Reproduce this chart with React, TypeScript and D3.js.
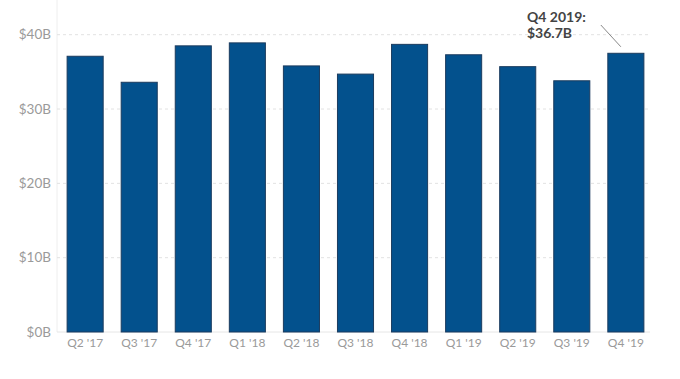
import React from "react";
import * as d3 from "d3";

const categories = ["Q2 '17", "Q3 '17", "Q4 '17", "Q1 '18", "Q2 '18", "Q3 '18", "Q4 '18", "Q1 '19", "Q2 '19", "Q3 '19", "Q4 '19"];
const values = [37.1, 33.6, 38.5, 38.9, 35.8, 34.7, 38.7, 37.3, 35.7, 33.8, 37.5];
const yTicks = [0, 10, 20, 30, 40];
const annotationLines = ["Q4 2019:", "$36.7B"];

const W = 680;
const H = 379;
const FONT = "Lato, 'Open Sans', sans-serif";

export default function App() {
  const plotLeft = 57;
  const plotRight = 650;
  const x = d3
    .scaleBand<string>()
    .domain(categories)
    .range([59, 652])
    .paddingInner(0.333)
    .paddingOuter(0.15);
  const y = d3.scaleLinear().domain([0, 40]).range([332, 34.7]);

  const last = categories[categories.length - 1];
  const lastX = (x(last) ?? 0) + x.bandwidth() / 2;
  const lastY = y(values[values.length - 1]);

  return (
    <svg
      width={W}
      height={H}
      style={{ position: "absolute", left: 0, top: 0, background: "#fff" }}
    >
      <rect x={0} y={0} width={W} height={H} fill="#fff" />
      <line x1={plotLeft} x2={plotLeft} y1={0} y2={332} stroke="#eeeeee" strokeWidth={1} />
      {yTicks.map((t) => (
        <line
          key={t}
          x1={plotLeft}
          x2={plotRight}
          y1={y(t)}
          y2={y(t)}
          stroke={t === 0 ? "#e6e6e6" : "#e2e2e2"}
          strokeDasharray={t === 0 ? undefined : "3,3"}
          strokeWidth={1}
        />
      ))}
      {yTicks.map((t) => (
        <text
          key={t}
          x={51}
          y={y(t)}
          dy="0.35em"
          textAnchor="end"
          fontFamily={FONT}
          fontSize={13.5}
          fill="#9a9a9a"
        >
          {`$${t}B`}
        </text>
      ))}
      {categories.map((c, i) => (
        <rect
          key={c}
          x={x(c)}
          y={y(values[i])}
          width={x.bandwidth()}
          height={y(0) - y(values[i])}
          fill="#03518d"
          stroke="#1b3b5e"
          strokeWidth={1}
        />
      ))}
      {categories.map((c) => (
        <text
          key={c}
          x={(x(c) ?? 0) + x.bandwidth() / 2}
          y={347}
          textAnchor="middle"
          fontFamily={FONT}
          fontSize={12}
          fill="#9a9a9a"
        >
          {c}
        </text>
      ))}
      <line
        x1={lastX - 25}
        y1={25}
        x2={lastX - 5}
        y2={lastY - 6.5}
        stroke="#888"
        strokeWidth={1}
      />
      {annotationLines.map((s, i) => (
        <text
          key={s}
          x={527}
          y={21.5 + i * 16.5}
          fontFamily={FONT}
          fontSize={14}
          fontWeight={700}
          fill="#444"
        >
          {s}
        </text>
      ))}
    </svg>
  );
}
